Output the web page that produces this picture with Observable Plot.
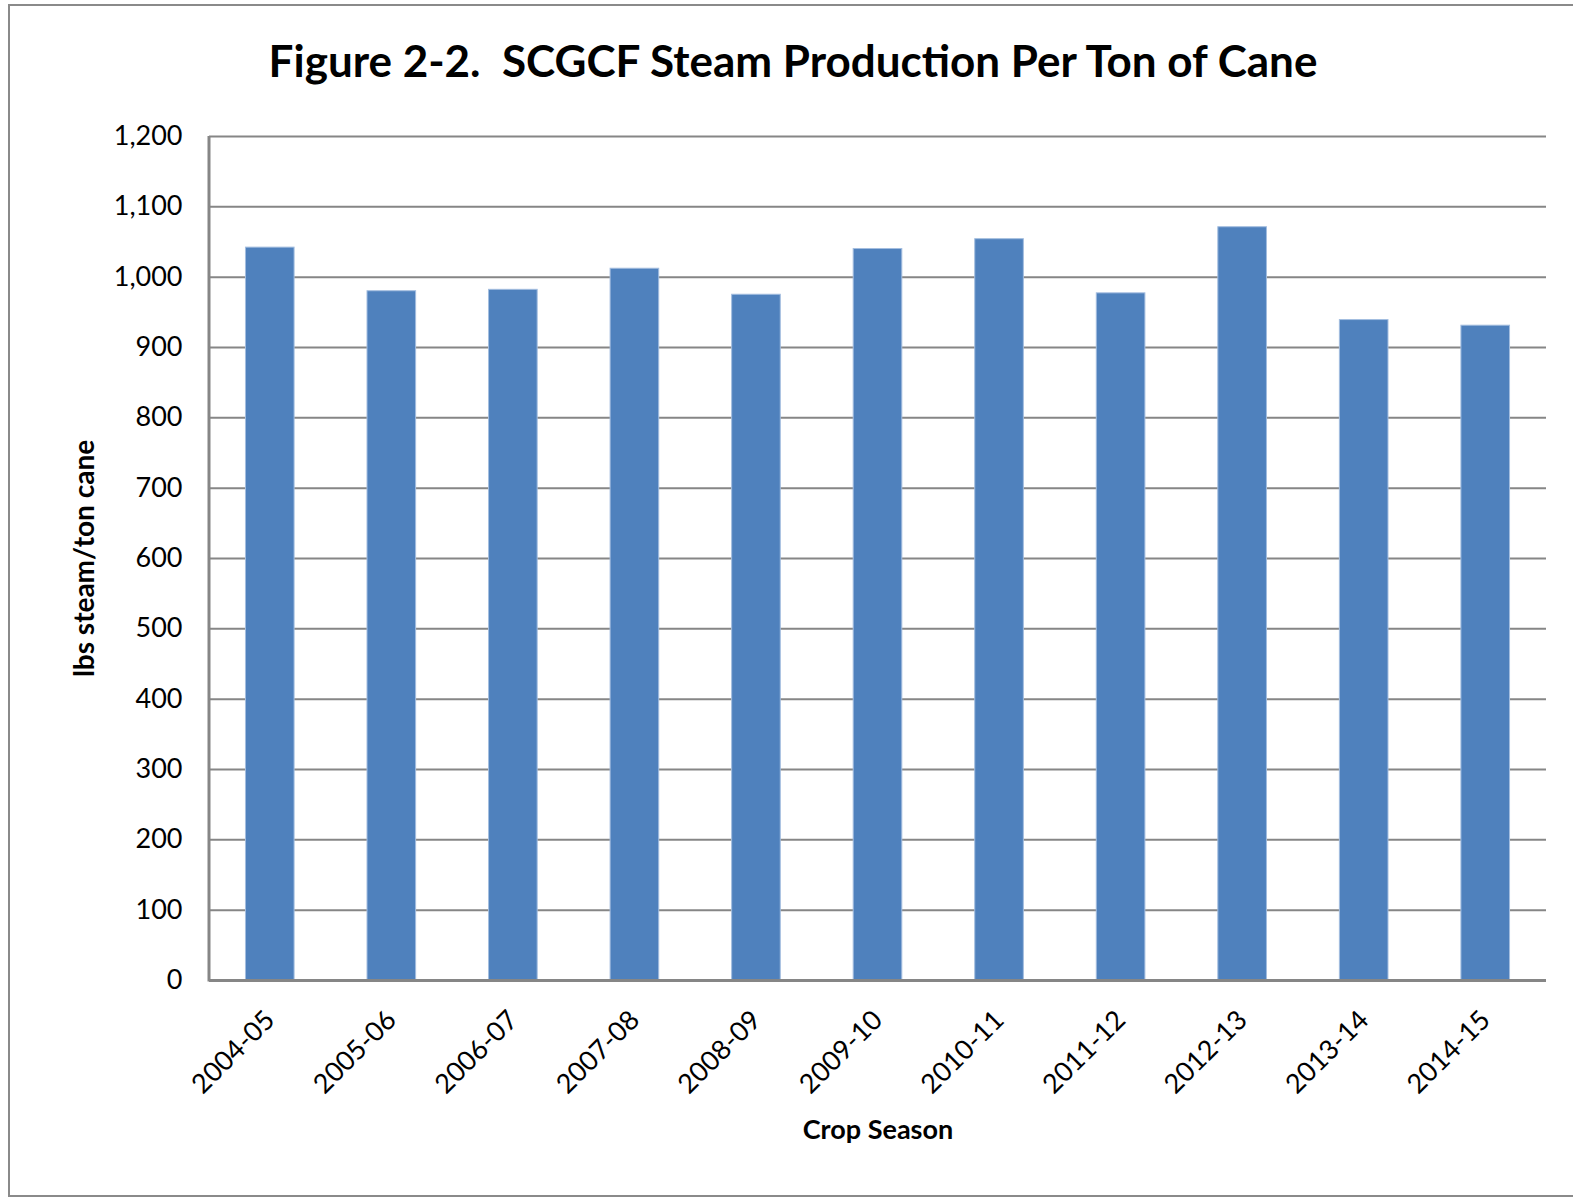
<!DOCTYPE html>
<html>
<head>
<meta charset="utf-8">
<script src="https://cdn.jsdelivr.net/npm/d3@7"></script>
<script src="https://cdn.jsdelivr.net/npm/@observablehq/plot@0.6"></script>
<style>
  html, body { margin: 0; padding: 0; background: #fff; }
  body { width: 1573px; height: 1201px; position: relative; overflow: hidden; font-family: "Lato", "Open Sans", sans-serif; }
  #frame { position: absolute; left: 8px; top: 4px; width: 1600px; height: 1189px; border: 2px solid #8a8a8a; border-right: none; }
  #title { position: absolute; left: 0; width: 1586px; top: 34px; text-align: center; font-weight: bold; font-size: 44px; white-space: pre; color: #000; }
  #chart { position: absolute; left: 0; top: 0; }
  #chart g[aria-label="y-axis label"] text { font-weight: bold; font-size: 28px; }
  #chart g[aria-label="x-axis label"] text { font-weight: bold; font-size: 27px; }
</style>
</head>
<body>
<div id="frame"></div>
<div id="title">Figure 2-2.  SCGCF Steam Production Per Ton of Cane</div>
<div id="chart"></div>
<script>
const seasons = ["2004-05","2005-06","2006-07","2007-08","2008-09","2009-10","2010-11","2011-12","2012-13","2013-14","2014-15"];
const steamPerTon = [1042, 980, 982, 1012, 975, 1040, 1054, 977, 1071, 939, 931];
const yTicks = [0,100,200,300,400,500,600,700,800,900,1000,1100,1200];

const data = seasons.map((s, i) => ({season: s, value: steamPerTon[i]}));

const leftAxisLine = (index, scales, values, dims) => {
  const y = scales.y;
  return d3.create("svg:line")
    .attr("x1", dims.marginLeft).attr("x2", dims.marginLeft)
    .attr("y1", y(0) + 1.5).attr("y2", y(1200))
    .attr("stroke", "#868686").attr("stroke-width", 3)
    .node();
};

const chart = Plot.plot({
  width: 1573,
  height: 1201,
  marginLeft: 209,
  marginRight: 27,
  marginTop: 136,
  marginBottom: 221,
  style: {fontFamily: "Lato, 'Open Sans', sans-serif", fontSize: "27px", color: "#000", background: "transparent", overflow: "visible"},
  x: {domain: seasons, paddingInner: 0.6, paddingOuter: 0.3, round: false},
  y: {domain: [0, 1200]},
  marks: [
    Plot.gridY(yTicks, {stroke: "#868686", strokeOpacity: 1, strokeWidth: 2}),
    Plot.barY(data, {x: "season", y: "value", fill: "#4F81BD", stroke: "#A3BDDF", strokeWidth: 1}),
    Plot.ruleY([0], {stroke: "#868686", strokeWidth: 3}),
    leftAxisLine,
    Plot.axisY(yTicks, {tickSize: 0, tickPadding: 27, tickFormat: d3.format(","), label: "lbs steam/ton cane", labelArrow: "none", labelAnchor: "center", labelOffset: 135}),
    Plot.axisX({tickSize: 0, tickRotate: -45, tickPadding: 35, label: "Crop Season", labelArrow: "none", labelAnchor: "center", labelOffset: 158})
  ]
});
document.getElementById("chart").appendChild(chart);
</script>
</body>
</html>
